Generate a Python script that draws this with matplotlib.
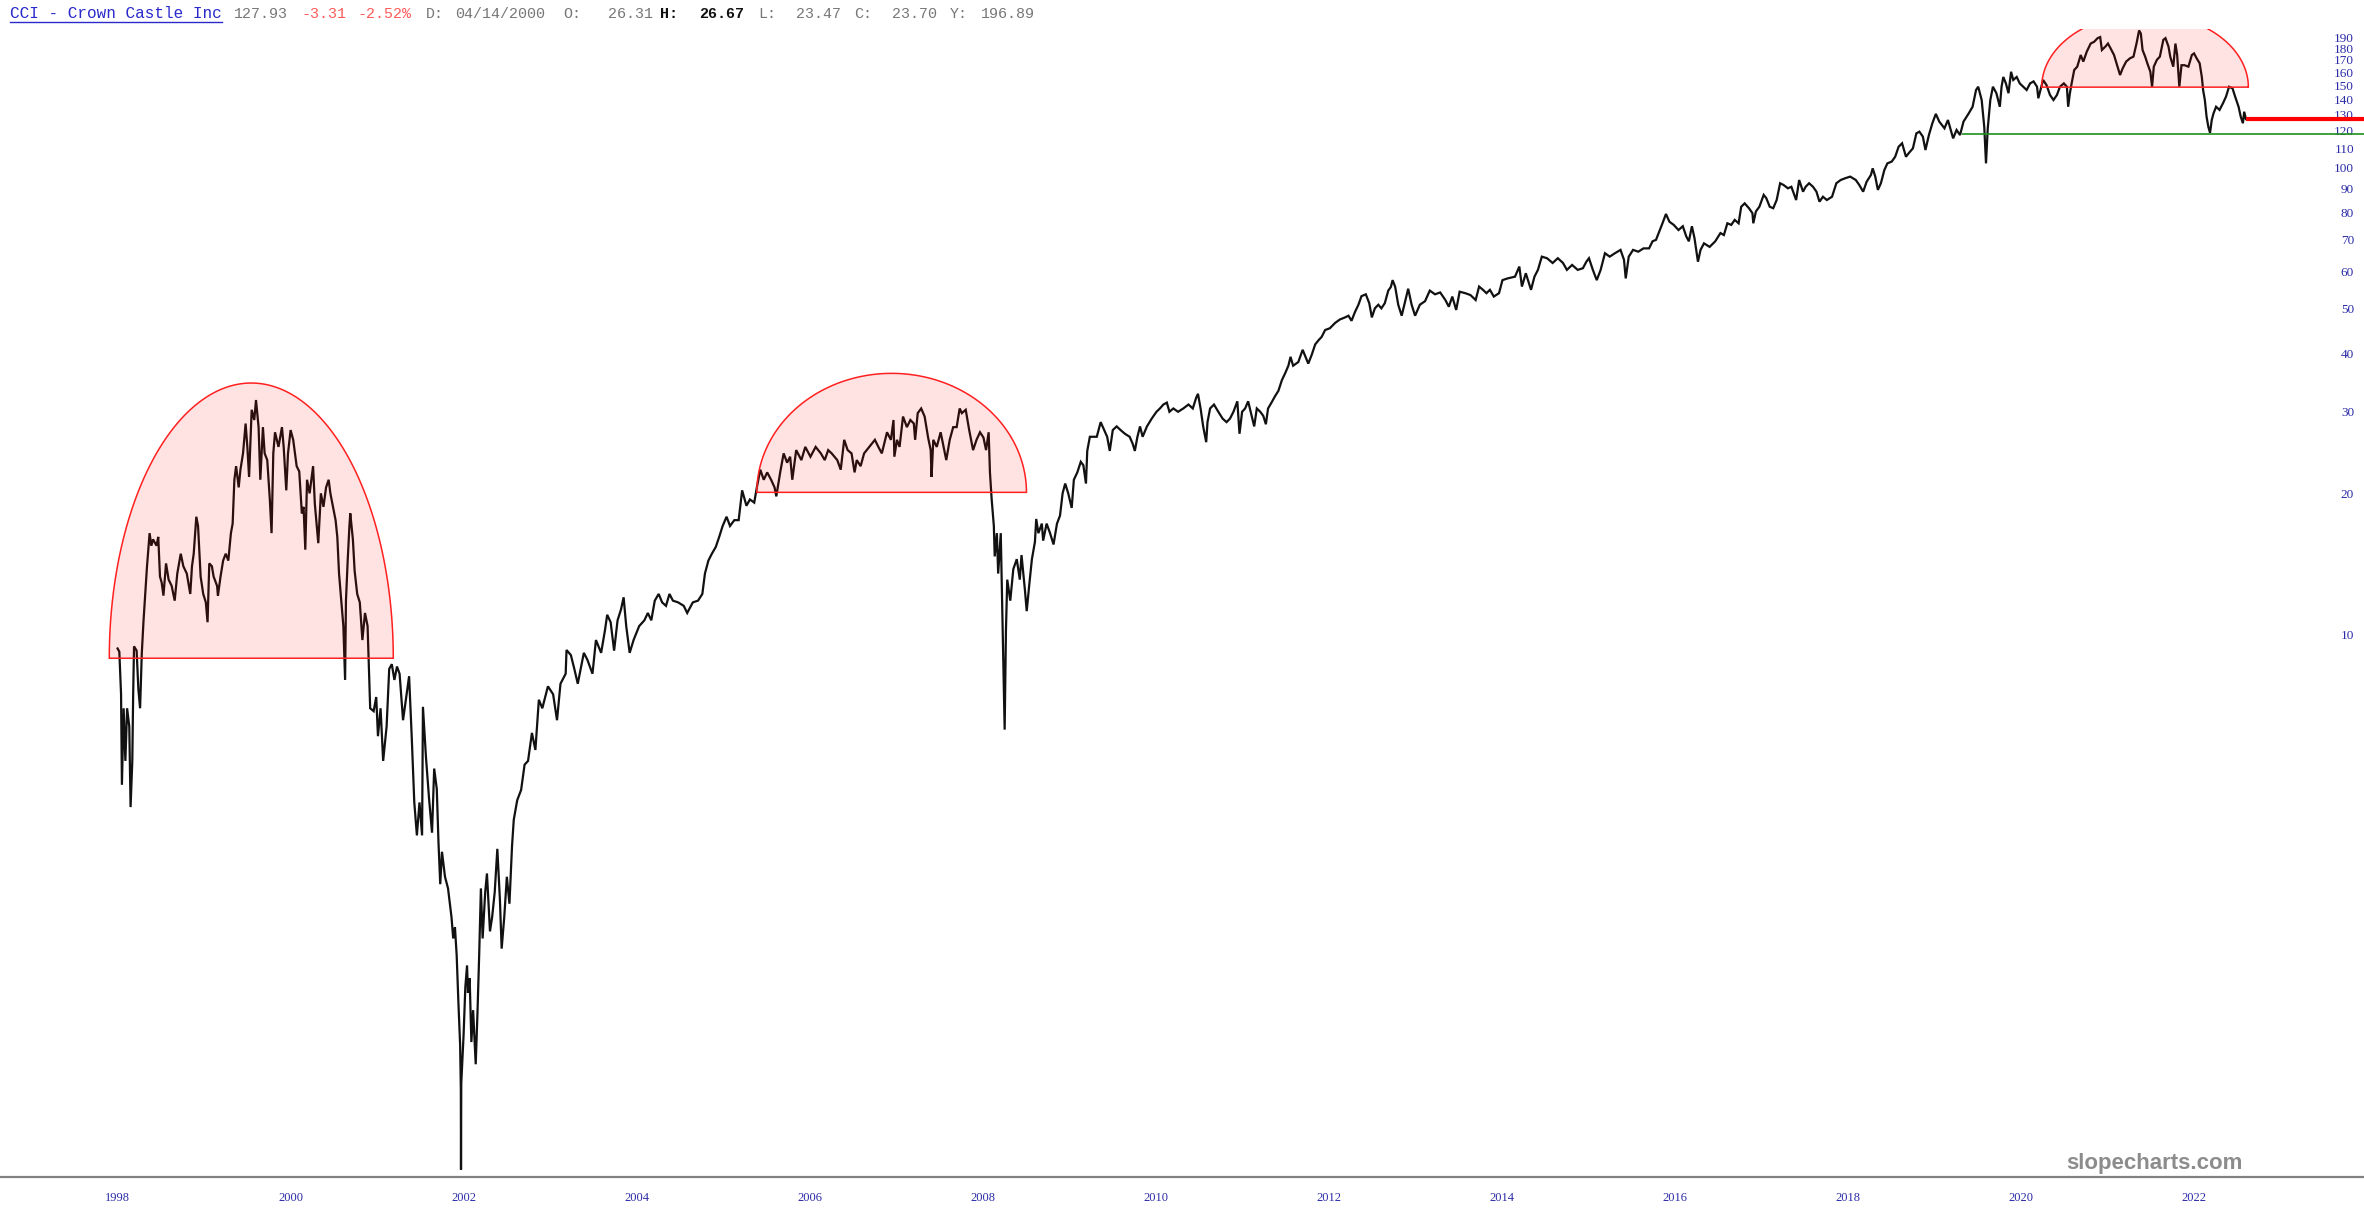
import numpy as np
import matplotlib
matplotlib.use('Agg')
import matplotlib.pyplot as plt
import matplotlib.transforms as mtrans
from matplotlib.lines import Line2D

W, H = 2364, 1218

# ---- price series (date as fractional year, price) ----
seg_1998_2001 = [
    (1998.00, 9.4), (1998.02, 9.25), (1998.04, 7.5), (1998.05, 4.8), (1998.07, 7.0), (1998.09, 5.4),
    (1998.11, 7.0), (1998.135, 6.4), (1998.15, 4.3), (1998.17, 5.4), (1998.18, 7.5), (1998.19, 9.5),
    (1998.22, 9.3), (1998.24, 7.7), (1998.26, 7.0), (1998.28, 9.2), (1998.30, 10.8), (1998.32, 12.3),
    (1998.34, 14.1), (1998.37, 16.6), (1998.39, 15.6), (1998.41, 16.1), (1998.45, 15.6), (1998.47, 16.3),
    (1998.49, 13.4), (1998.51, 13.0), (1998.53, 12.2), (1998.56, 14.3), (1998.59, 13.2), (1998.625, 12.8),
    (1998.66, 11.9), (1998.69, 13.6), (1998.73, 15.0), (1998.76, 14.1), (1998.80, 13.6), (1998.84, 12.3),
    (1998.86, 14.1), (1998.88, 15.0), (1998.91, 18.0), (1998.93, 17.2), (1998.96, 13.4), (1998.99, 12.3),
    (1999.02, 11.8), (1999.04, 10.7), (1999.06, 14.3), (1999.09, 14.1), (1999.11, 13.4), (1999.15, 12.8),
    (1999.16, 12.2), (1999.19, 13.4), (1999.22, 14.5), (1999.25, 15.0), (1999.28, 14.5), (1999.31, 16.6),
    (1999.33, 17.4), (1999.35, 21.6), (1999.37, 23.1), (1999.40, 20.8), (1999.42, 22.7), (1999.45, 24.6),
    (1999.48, 28.5), (1999.50, 25.4), (1999.52, 21.9), (1999.55, 30.5), (1999.58, 29.0), (1999.60, 32.0),
    (1999.63, 28.0), (1999.65, 21.6), (1999.68, 28.0), (1999.70, 24.6), (1999.73, 23.8), (1999.76, 19.6),
    (1999.78, 16.6), (1999.80, 24.6), (1999.82, 27.3), (1999.86, 25.4), (1999.90, 28.0), (1999.92, 25.4),
    (1999.95, 20.5), (1999.97, 24.6), (2000.00, 27.6), (2000.03, 26.3), (2000.07, 23.1), (2000.10, 22.5),
    (2000.13, 18.3), (2000.15, 18.9), (2000.17, 15.3), (2000.19, 21.6), (2000.22, 20.2), (2000.26, 23.1),
    (2000.28, 19.2), (2000.32, 15.8), (2000.35, 20.2), (2000.38, 18.9), (2000.41, 20.8), (2000.44, 21.6),
    (2000.46, 20.2), (2000.49, 18.9), (2000.52, 17.7), (2000.54, 16.3), (2000.56, 13.6), (2000.59, 11.6),
    (2000.61, 10.5), (2000.63, 8.05), (2000.64, 11.9), (2000.66, 14.5), (2000.68, 17.2), (2000.69, 18.3),
    (2000.72, 16.1), (2000.74, 13.8), (2000.77, 12.3), (2000.80, 11.8), (2000.83, 9.8), (2000.86, 11.2),
    (2000.89, 10.5), (2000.92, 7.0), (2000.96, 6.9), (2000.99, 7.4), (2001.01, 6.1), (2001.04, 7.0),
    (2001.07, 5.4), (2001.11, 6.4), (2001.14, 8.5), (2001.17, 8.7), (2001.20, 8.05), (2001.23, 8.6),
    (2001.26, 8.3),
]
seg_2001_2002 = [
    (2001.30, 6.6), (2001.37, 8.2), (2001.40, 6.1), (2001.43, 4.4), (2001.46, 3.74), (2001.49, 4.4),
    (2001.52, 3.74), (2001.53, 7.05), (2001.565, 5.5), (2001.60, 4.5), (2001.635, 3.79), (2001.66, 5.2),
    (2001.69, 4.7), (2001.71, 3.6), (2001.73, 2.94), (2001.75, 3.45), (2001.785, 3.05), (2001.82, 2.88),
    (2001.86, 2.5), (2001.88, 2.25), (2001.90, 2.38), (2001.92, 2.07), (2001.94, 1.64), (2001.96, 1.33),
    (2001.968, 1.07), (2001.970, 0.72), (2001.973, 1.1), (2002.00, 1.40), (2002.02, 1.77), (2002.04, 1.97),
    (2002.05, 1.72), (2002.07, 1.85), (2002.09, 1.35), (2002.11, 1.58), (2002.14, 1.21), (2002.16, 1.55),
    (2002.18, 2.07), (2002.20, 2.88), (2002.22, 2.25), (2002.25, 2.83), (2002.27, 3.1), (2002.305, 2.33),
    (2002.33, 2.5), (2002.36, 2.83), (2002.39, 3.5), (2002.42, 2.72), (2002.44, 2.14), (2002.47, 2.5),
    (2002.50, 3.05), (2002.53, 2.67),
]
seg_2002_2008 = [
    (2002.56, 3.55), (2002.58, 4.04), (2002.62, 4.45), (2002.665, 4.68), (2002.705, 5.3), (2002.745, 5.4),
    (2002.79, 6.2), (2002.83, 5.7), (2002.87, 7.3), (2002.91, 7.0), (2002.975, 7.8), (2003.035, 7.5),
    (2003.08, 6.6), (2003.12, 7.9), (2003.18, 8.3), (2003.19, 9.33), (2003.24, 9.1), (2003.28, 8.5),
    (2003.32, 7.9), (2003.39, 9.2), (2003.43, 8.9), (2003.49, 8.3), (2003.53, 9.8), (2003.59, 9.2),
    (2003.635, 10.3), (2003.66, 11.1), (2003.70, 10.7), (2003.74, 9.3), (2003.78, 10.8), (2003.82, 11.4),
    (2003.85, 12.1), (2003.88, 10.5), (2003.92, 9.2), (2003.965, 9.8), (2004.03, 10.5), (2004.09, 10.8),
    (2004.13, 11.2), (2004.17, 10.8), (2004.21, 11.9), (2004.255, 12.3), (2004.295, 11.8), (2004.34, 11.6),
    (2004.38, 12.3), (2004.42, 11.9), (2004.48, 11.8), (2004.545, 11.6), (2004.585, 11.2), (2004.65, 11.8),
    (2004.71, 11.9), (2004.76, 12.3), (2004.79, 13.6), (2004.83, 14.5), (2004.87, 15.0), (2004.915, 15.5),
    (2004.955, 16.3), (2004.995, 17.2), (2005.04, 18.0), (2005.08, 17.2), (2005.13, 17.7), (2005.18, 17.7),
    (2005.22, 20.5), (2005.27, 19.0), (2005.31, 19.6), (2005.36, 19.3), (2005.39, 20.8), (2005.43, 22.7),
    (2005.47, 21.6), (2005.51, 22.4), (2005.555, 21.6), (2005.595, 20.8), (2005.615, 19.9), (2005.66, 22.4),
    (2005.70, 24.6), (2005.74, 23.5), (2005.775, 24.2), (2005.80, 21.6), (2005.845, 25.0), (2005.905, 23.8),
    (2005.95, 25.4), (2006.01, 24.2), (2006.07, 25.4), (2006.13, 24.6), (2006.175, 23.8), (2006.215, 25.0),
    (2006.255, 24.6), (2006.32, 23.8), (2006.36, 22.7), (2006.40, 26.3), (2006.44, 25.0), (2006.485, 24.6),
    (2006.52, 22.4), (2006.545, 23.8), (2006.59, 23.1), (2006.63, 24.6), (2006.69, 25.4), (2006.755, 26.3),
    (2006.795, 25.4), (2006.835, 24.6), (2006.895, 27.3), (2006.94, 26.3), (2006.97, 29.0), (2006.98, 24.2),
    (2007.01, 26.3), (2007.04, 25.4), (2007.08, 29.5), (2007.125, 28.0), (2007.165, 29.0), (2007.205, 28.5),
    (2007.22, 26.3), (2007.25, 30.0), (2007.29, 30.7), (2007.33, 29.5), (2007.37, 26.6), (2007.40, 25.0),
    (2007.41, 21.9), (2007.43, 26.3), (2007.47, 25.4), (2007.515, 27.3), (2007.58, 23.8), (2007.62, 26.3),
    (2007.66, 28.0), (2007.70, 28.0), (2007.735, 30.7), (2007.76, 30.0), (2007.805, 30.5), (2007.845, 27.6),
    (2007.89, 25.0), (2007.93, 26.3), (2007.97, 27.3), (2008.01, 26.6), (2008.04, 25.0), (2008.07, 27.3),
    (2008.085, 22.4), (2008.105, 19.6), (2008.13, 17.2), (2008.14, 14.8), (2008.165, 16.6), (2008.18, 13.6),
    (2008.195, 15.0), (2008.21, 16.6),
]
seg_2008_2013 = [
    (2008.24, 8.8), (2008.255, 6.3), (2008.27, 10.3), (2008.285, 13.2), (2008.32, 11.9), (2008.355, 13.9),
    (2008.395, 14.6), (2008.43, 13.2), (2008.45, 14.9), (2008.49, 12.5), (2008.51, 11.3), (2008.54, 12.9),
    (2008.57, 14.6), (2008.605, 15.9), (2008.62, 17.8), (2008.645, 16.6), (2008.685, 17.4), (2008.70, 16.0),
    (2008.74, 17.4), (2008.78, 16.6), (2008.82, 15.7), (2008.86, 17.4), (2008.895, 18.1), (2008.925, 20.2),
    (2008.955, 21.2), (2008.99, 20.2), (2009.03, 18.8), (2009.055, 21.6), (2009.095, 22.4), (2009.135, 23.6),
    (2009.165, 23.2), (2009.195, 21.2), (2009.21, 24.9), (2009.24, 26.7), (2009.28, 26.7), (2009.32, 26.7),
    (2009.365, 28.7), (2009.405, 27.6), (2009.44, 26.7), (2009.47, 24.9), (2009.505, 27.6), (2009.55, 28.1),
    (2009.595, 27.6), (2009.645, 27.1), (2009.70, 26.7), (2009.735, 25.8), (2009.76, 24.9), (2009.79, 26.7),
    (2009.82, 28.1), (2009.85, 26.7), (2009.90, 28.1), (2009.955, 29.2), (2010.01, 30.2), (2010.05, 30.7),
    (2010.09, 31.3), (2010.13, 31.6), (2010.16, 30.2), (2010.205, 30.7), (2010.26, 30.2), (2010.32, 30.7),
    (2010.38, 31.3), (2010.43, 30.7), (2010.47, 32.4), (2010.49, 33.0), (2010.52, 30.7), (2010.55, 28.1),
    (2010.585, 26.0), (2010.60, 28.7), (2010.63, 30.7), (2010.675, 31.3), (2010.725, 30.2), (2010.775, 29.2),
    (2010.82, 28.7), (2010.86, 29.2), (2010.90, 30.2), (2010.945, 31.8), (2010.97, 27.1), (2011.00, 30.2),
    (2011.035, 30.7), (2011.07, 31.8), (2011.11, 29.6), (2011.14, 28.1), (2011.17, 30.7), (2011.21, 30.2),
    (2011.245, 29.6), (2011.275, 28.4), (2011.30, 30.7), (2011.34, 31.6), (2011.38, 32.6), (2011.42, 33.5),
    (2011.46, 35.3), (2011.50, 36.6), (2011.535, 37.9), (2011.56, 39.6), (2011.59, 37.9), (2011.65, 38.6),
    (2011.70, 41.0), (2011.74, 39.3), (2011.765, 38.3), (2011.805, 40.0), (2011.845, 42.1), (2011.88, 42.9),
    (2011.92, 43.7), (2011.96, 45.2), (2012.015, 45.6), (2012.075, 46.8), (2012.13, 47.6), (2012.19, 48.1),
    (2012.23, 48.5), (2012.265, 47.3), (2012.305, 49.4), (2012.345, 51.2), (2012.38, 53.4), (2012.43, 53.9),
    (2012.47, 51.6), (2012.50, 48.1), (2012.535, 50.3), (2012.575, 51.2), (2012.61, 50.3), (2012.65, 51.6),
    (2012.69, 54.9), (2012.72, 55.9), (2012.74, 57.8), (2012.77, 55.9), (2012.805, 51.2), (2012.845, 48.5),
    (2012.885, 52.1), (2012.92, 55.4), (2012.96, 51.2), (2013.00, 48.5), (2013.055, 51.2), (2013.115, 52.1),
    (2013.17, 54.9), (2013.23, 53.9), (2013.29, 54.4),
]
seg_2013_2019 = [
    (2013.35, 52.4), (2013.39, 50.7), (2013.43, 53.3), (2013.475, 49.9), (2013.515, 54.6), (2013.58, 54.2),
    (2013.64, 53.7), (2013.70, 52.4), (2013.74, 56.0), (2013.785, 55.1), (2013.825, 54.2), (2013.865, 55.1),
    (2013.91, 53.3), (2013.97, 54.2), (2014.01, 57.8), (2014.07, 58.3), (2014.155, 58.8), (2014.205, 61.8),
    (2014.235, 56.0), (2014.28, 59.8), (2014.34, 55.1), (2014.38, 58.8), (2014.42, 60.8), (2014.465, 64.9),
    (2014.525, 64.4), (2014.59, 62.9), (2014.65, 64.4), (2014.71, 62.9), (2014.755, 60.8), (2014.815, 62.3),
    (2014.88, 60.8), (2014.94, 61.3), (2014.98, 63.3), (2015.01, 64.4), (2015.055, 60.8), (2015.10, 57.8),
    (2015.145, 60.8), (2015.195, 66.0), (2015.25, 64.9), (2015.31, 66.0), (2015.375, 67.1), (2015.415, 63.9),
    (2015.435, 58.3), (2015.47, 64.9), (2015.52, 67.1), (2015.58, 66.5), (2015.64, 67.6), (2015.705, 67.6),
    (2015.745, 70.0), (2015.785, 70.5), (2015.83, 74.0), (2015.86, 76.5), (2015.90, 80.1), (2015.94, 77.1),
    (2015.99, 75.9), (2016.045, 74.0), (2016.095, 75.4), (2016.135, 71.7), (2016.165, 70.0), (2016.20, 75.4),
    (2016.23, 71.1), (2016.25, 67.1), (2016.27, 63.3), (2016.30, 67.1), (2016.34, 69.3), (2016.405, 68.1),
    (2016.47, 70.0), (2016.53, 72.9), (2016.57, 72.2), (2016.61, 76.5), (2016.655, 75.9), (2016.695, 77.8),
    (2016.74, 76.5), (2016.77, 83.0), (2016.81, 84.4), (2016.86, 82.4), (2016.90, 80.4), (2016.91, 76.5),
    (2016.94, 81.1), (2016.98, 83.0), (2017.03, 88.0), (2017.06, 86.6), (2017.10, 83.0), (2017.14, 82.4),
    (2017.18, 85.8), (2017.22, 93.2), (2017.26, 92.4), (2017.31, 90.9), (2017.35, 91.6), (2017.405, 85.8),
    (2017.44, 94.7), (2017.485, 89.4), (2017.515, 91.6), (2017.555, 93.2), (2017.60, 91.6), (2017.64, 89.4),
    (2017.675, 85.1), (2017.715, 87.2), (2017.76, 85.8), (2017.82, 87.2), (2017.87, 93.2), (2017.92, 94.7),
    (2017.97, 95.5), (2018.03, 96.3), (2018.095, 94.7), (2018.135, 92.4), (2018.18, 89.4), (2018.22, 93.9),
    (2018.27, 97.1), (2018.29, 100.3), (2018.32, 96.3), (2018.35, 90.2), (2018.385, 93.2), (2018.425, 99.5),
    (2018.46, 102.8), (2018.51, 103.7), (2018.55, 106.2), (2018.59, 111.6), (2018.63, 113.5), (2018.675, 106.2),
    (2018.705, 108.0), (2018.755, 110.7), (2018.795, 119.2), (2018.83, 120.2), (2018.87, 117.3), (2018.90, 109.8),
    (2018.94, 118.2), (2018.98, 125.3), (2019.02, 131.2), (2019.06, 126.3), (2019.12, 122.2), (2019.16, 127.3),
    (2019.22, 116.3), (2019.26, 121.2), (2019.30, 118.2), (2019.34, 126.3), (2019.40, 131.5), (2019.445, 135.9),
    (2019.485, 147.6),
]
seg_2019_2022 = [
    (2019.51, 150.0), (2019.55, 140.5), (2019.58, 123.0), (2019.60, 102.8), (2019.62, 122.0), (2019.65, 140.5),
    (2019.68, 150.0), (2019.72, 145.3), (2019.76, 135.9), (2019.78, 150.0), (2019.80, 157.4), (2019.83, 152.5),
    (2019.86, 145.3), (2019.89, 161.5), (2019.915, 155.1), (2019.955, 157.4), (2019.99, 152.5), (2020.03, 150.0),
    (2020.07, 147.6), (2020.11, 152.5), (2020.15, 154.0), (2020.19, 150.0), (2020.205, 141.7), (2020.23, 147.6),
    (2020.26, 155.1), (2020.30, 151.2), (2020.34, 144.0), (2020.38, 140.5), (2020.42, 144.0), (2020.455, 150.0),
    (2020.50, 152.5), (2020.535, 150.0), (2020.55, 135.9), (2020.57, 145.3), (2020.59, 152.5), (2020.62, 162.9),
    (2020.655, 165.6), (2020.695, 175.4), (2020.725, 169.8), (2020.765, 178.3), (2020.81, 185.6), (2020.85, 187.2),
    (2020.89, 190.6), (2020.92, 191.6), (2020.94, 179.8), (2020.98, 182.8), (2021.01, 185.6), (2021.04, 181.3),
    (2021.08, 175.4), (2021.12, 165.6), (2021.15, 158.9), (2021.18, 164.2), (2021.22, 169.8), (2021.265, 172.6),
    (2021.305, 174.0), (2021.34, 185.6), (2021.37, 198.0), (2021.39, 195.0), (2021.41, 179.8), (2021.44, 174.0),
    (2021.465, 168.4), (2021.50, 161.5), (2021.52, 150.0), (2021.54, 165.6), (2021.575, 171.2), (2021.61, 174.0),
    (2021.65, 189.0), (2021.675, 190.6), (2021.71, 182.8), (2021.73, 174.0), (2021.765, 165.6), (2021.79, 185.6),
    (2021.81, 175.4), (2021.835, 150.0), (2021.86, 166.8), (2021.895, 166.8), (2021.94, 165.6), (2021.98, 175.4),
    (2022.005, 176.8), (2022.035, 172.6), (2022.07, 168.4), (2022.095, 157.4), (2022.11, 147.6), (2022.13, 140.5),
    (2022.15, 129.4), (2022.17, 123.2), (2022.19, 119.5), (2022.21, 127.3), (2022.23, 131.5), (2022.26, 135.9),
    (2022.30, 133.8), (2022.34, 138.3), (2022.375, 142.9), (2022.41, 150.0), (2022.45, 148.8), (2022.48, 142.9),
    (2022.52, 135.9), (2022.545, 129.4), (2022.57, 125.3), (2022.585, 132.6), (2022.605, 127.93),
]

# rounded-top patterns: (start date, end date, base price, top price)
domes = [
    (1997.904, 2001.187, 8.96, 34.8),
    (2005.39, 2008.507, 20.3, 36.5),
    (2020.244, 2022.633, 149.7, 215.0),
]
last_price, last_date = 127.93, 2022.605
support_price, support_date = 118.9, 2019.32

year_ticks = list(range(1998, 2023, 2))
price_ticks = list(range(10, 200, 10))

header = [  # (text, x px, align, colour, bold, size)
    ('CCI - Crown Castle Inc', 10, 'left', '#2a2acc', False, 11.5),
    ('127.93', 234, 'left', '#777777', False, 10.8),
    ('-3.31', 302, 'left', '#ff5a5a', False, 10.8),
    ('-2.52%', 358, 'left', '#ff5a5a', False, 10.8),
    ('D:', 426, 'left', '#777777', False, 10.8),
    ('04/14/2000', 455, 'left', '#777777', False, 10.8),
    ('O:', 563, 'left', '#777777', False, 10.8),
    ('26.31', 653, 'right', '#777777', False, 10.8),
    ('H:', 660, 'left', '#111111', True, 10.8),
    ('26.67', 699, 'left', '#111111', True, 10.8),
    ('L:', 758, 'left', '#777777', False, 10.8),
    ('23.47', 796, 'left', '#777777', False, 10.8),
    ('C:', 854, 'left', '#777777', False, 10.8),
    ('23.70', 892, 'left', '#777777', False, 10.8),
    ('Y:', 950, 'left', '#777777', False, 10.8),
    ('196.89', 981, 'left', '#777777', False, 10.8),
]

# ---- figure ----
fig = plt.figure(figsize=(W / 100, H / 100), dpi=100)
ax = fig.add_axes([0, 1 - 1177 / H, 1, (1177 - 29) / H])
ax.set_yscale('log')
ax.set_xlim(1996.6405, 2023.970)
ax.set_ylim(0.694, 199.4)

series = seg_1998_2001 + seg_2001_2002 + seg_2002_2008 + seg_2008_2013 + seg_2013_2019 + seg_2019_2022
dates = np.array([d for d, _ in series])
prices = np.array([p for _, p in series])
ax.plot(dates, prices, color='#111111', lw=1.6, zorder=2, solid_joinstyle='miter')

for x0, x1, base, top in domes:
    t = np.linspace(0, np.pi, 300)
    cx, a = (x0 + x1) / 2, (x1 - x0) / 2
    lb, lt = np.log10(base), np.log10(top)
    ax.fill(cx - a * np.cos(t), 10 ** (lb + (lt - lb) * np.sin(t)),
            facecolor=(1, 0, 0, 0.11), edgecolor='#ff2020', lw=1.1, zorder=3)

xmax = ax.get_xlim()[1]
ax.hlines(support_price, support_date, xmax, color='#1f8f1f', lw=1.2, zorder=4)
ax.hlines(last_price, last_date, xmax, color='#ff0000', lw=3.0, zorder=5)

# axes styling
for s in ('top', 'left', 'right'):
    ax.spines[s].set_visible(False)
ax.spines['bottom'].set_color('#808080')
ax.spines['bottom'].set_linewidth(1.6)
ax.set_xticks(year_ticks)
ax.set_xticklabels([str(y) for y in year_ticks])
ax.xaxis.set_minor_locator(matplotlib.ticker.NullLocator())
ax.tick_params(axis='x', length=0, pad=11, labelsize=9, labelcolor='#2b2ba8')
for lab in ax.get_xticklabels():
    lab.set_family('Liberation Serif')
ax.set_yticks([])
ax.yaxis.set_minor_locator(matplotlib.ticker.NullLocator())

ytrans = mtrans.blended_transform_factory(fig.transFigure, ax.transData)
for v in price_ticks:
    ax.text(2354 / W, v, str(v), transform=ytrans, ha='right', va='center',
            fontsize=9.5, color='#2b2ba8', family='Liberation Serif', clip_on=False)

# header line
for txt, xp, al, col, bold, fs in header:
    fig.text(xp / W, 1 - 13.5 / H, txt, ha=al, va='center', fontsize=fs,
             family='Liberation Mono', color=col, weight='bold' if bold else 'normal')
fig.add_artist(Line2D([10 / W, 222 / W], [1 - 21.8 / H] * 2, color='#2a2acc', lw=1.0))

fig.text(2154 / W, 1 - 1163 / H, 'slopecharts.com', ha='center', va='center',
         fontsize=16, weight='bold', color='#8c8c8c', family='Liberation Sans')

fig.savefig('out.png', dpi=100, facecolor='white')
